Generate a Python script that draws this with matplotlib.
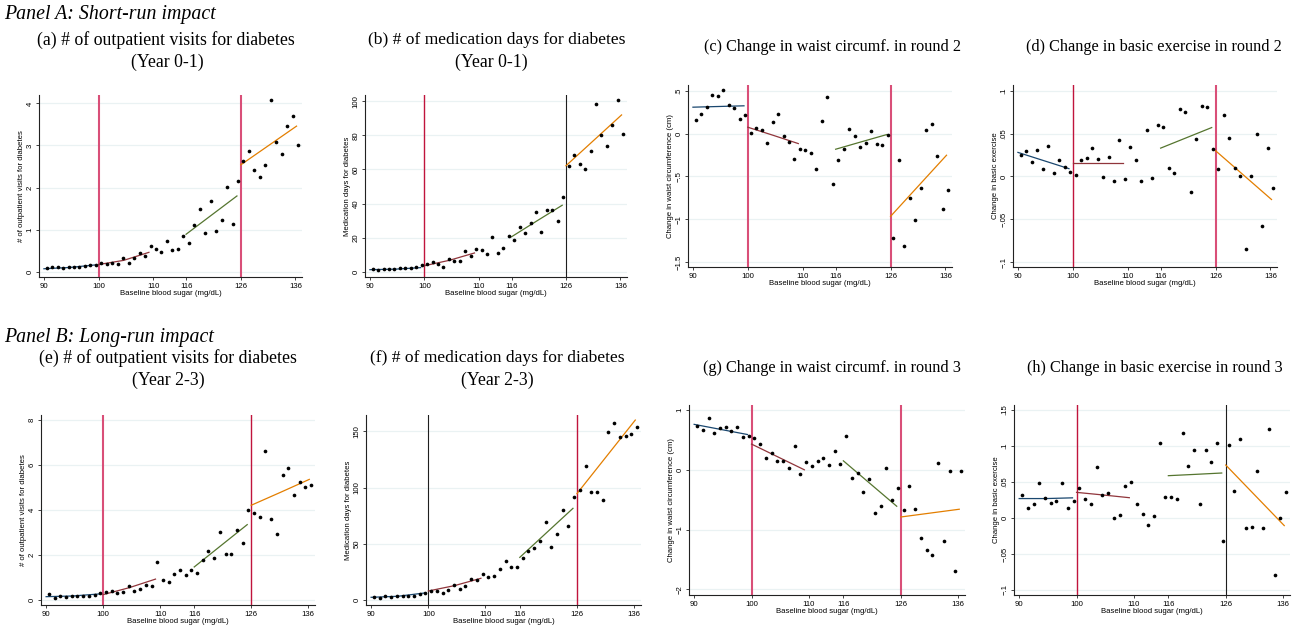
import matplotlib
matplotlib.use("Agg")
import matplotlib.pyplot as plt

W, H = 1294, 628

# bin centres of baseline blood sugar
bin_x = [90.5, 91.5, 92.5, 93.5, 94.5, 95.5, 96.5, 97.5, 98.5, 99.5,
         100.5, 101.5, 102.5, 103.5, 104.5, 105.5, 106.5, 107.5, 108.5, 109.5,
         110.5, 111.5, 112.5, 113.5, 114.5, 115.5, 116.5, 117.5, 118.5, 119.5,
         120.5, 121.5, 122.5, 123.5, 124.5, 125.5, 126.5, 127.5, 128.5, 129.5,
         130.5, 131.5, 132.5, 133.5, 134.5, 135.5, 136.5]

visits_y01 = [0.08, 0.10, 0.10, 0.08, 0.10, 0.10, 0.11, 0.13, 0.15, 0.17,
              0.20, 0.19, 0.21, 0.19, 0.33, 0.21, 0.33, 0.44, 0.38, 0.60,
              0.54, 0.46, 0.74, 0.51, 0.54, 0.86, 0.69, 1.10, 1.48, 0.92,
              1.69, 0.96, 1.22, 2.02, 1.14, 2.15, 2.64, 2.86, 2.41, 2.26,
              2.53, 4.09, 3.09, 2.79, 3.46, 3.71, 3.02]
meddays_y01 = [1.8, 1.2, 1.8, 1.4, 1.6, 2.0, 2.0, 2.0, 2.9, 4.1,
               4.3, 5.5, 4.5, 2.9, 7.4, 6.3, 6.5, 11.9, 9.2, 13.1,
               12.9, 10.4, 20.5, 10.8, 14.1, 21.1, 18.8, 26.0, 22.5, 28.8,
               35.2, 23.3, 36.0, 36.0, 29.9, 43.6, 62.2, 68.7, 63.4, 60.1,
               70.8, 98.6, 80.4, 73.8, 86.3, 100.8, 81.0]
waist_r2 = [0.164, 0.23, 0.31, 0.456, 0.44, 0.51, 0.335, 0.30, 0.17, 0.214,
            0.004, 0.066, 0.047, -0.113, 0.136, 0.23, -0.027, -0.10, -0.30, -0.175,
            -0.195, -0.226, -0.417, 0.144, 0.425, -0.585, -0.312, -0.175, 0.055, -0.031,
            -0.152, -0.109, 0.027, -0.121, -0.136, -0.012, -1.224, -0.304, -1.31, -0.752,
            -1.006, -0.635, 0.039, 0.109, -0.26, -0.877, -0.655]
exercise_r2 = [0.0253, 0.0296, 0.0164, 0.0308, 0.0082, 0.0359, 0.0035, 0.0195, 0.0113, 0.0047,
               0.0019, 0.0187, 0.0214, 0.0327, 0.0207, -0.0008, 0.023, -0.005, 0.0429, -0.0035,
               0.0347, 0.0187, -0.005, 0.0542, -0.002, 0.0596, 0.0573, 0.0097, 0.0039, 0.0784,
               0.0752, -0.0179, 0.0433, 0.0827, 0.0811, 0.0316, 0.0082, 0.0717, 0.0448, 0.0101,
               0.0, -0.0842, 0.0, 0.0499, -0.0577, 0.0327, -0.014]
visits_y23 = [0.25, 0.10, 0.18, 0.12, 0.16, 0.19, 0.19, 0.18, 0.22, 0.30,
              0.34, 0.39, 0.30, 0.34, 0.62, 0.41, 0.47, 0.67, 0.64, 1.69,
              0.89, 0.80, 1.14, 1.33, 1.13, 1.32, 1.21, 1.79, 2.16, 1.88,
              3.02, 2.04, 2.06, 3.10, 2.53, 3.99, 3.88, 3.70, 6.64, 3.60,
              2.92, 5.56, 5.87, 4.65, 5.26, 5.01, 5.11]
meddays_y23 = [2.4, 2.1, 3.3, 2.4, 3.3, 3.6, 3.6, 3.6, 5.3, 6.2,
               8.0, 8.0, 6.5, 8.9, 13.3, 10.1, 12.7, 19.0, 17.8, 22.8,
               20.8, 21.0, 27.9, 35.0, 29.4, 29.4, 37.4, 43.9, 46.2, 52.5,
               69.1, 47.2, 59.0, 80.0, 65.5, 91.9, 97.5, 119.2, 95.8, 95.8,
               89.2, 149.1, 157.7, 144.7, 145.9, 147.3, 153.6]
waist_r3 = [0.727, 0.665, 0.866, 0.615, 0.704, 0.721, 0.649, 0.716, 0.543, 0.56,
            0.537, 0.437, 0.202, 0.281, 0.141, 0.152, 0.035, 0.392, -0.071, 0.136,
            0.057, 0.141, 0.202, 0.08, 0.32, 0.091, 0.57, -0.138, -0.054, -0.372,
            -0.149, -0.718, -0.6, 0.035, -0.5, -0.3, -0.68, -0.277, -0.662, -1.136,
            -1.343, -1.432, 0.113, -1.192, -0.026, -1.693, -0.015]
exercise_r3 = [0.0319, 0.0139, 0.019, 0.0481, 0.0282, 0.0208, 0.0241, 0.0486, 0.0139, 0.0241,
               0.0412, 0.0259, 0.0194, 0.0713, 0.0315, 0.0352, 0.0005, 0.0046, 0.0444, 0.0495,
               0.0199, 0.0051, -0.0097, 0.0032, 0.1046, 0.0296, 0.0296, 0.0259, 0.118, 0.0722,
               0.0944, 0.0199, 0.0949, 0.0778, 0.1037, -0.0324, 0.1014, 0.037, 0.1097, -0.0139,
               -0.0125, 0.0653, -0.0144, 0.1231, -0.0796, 0.0005, 0.0356]

# fitted lines: x at start / middle / end of each segment
fit_x = [[90, 94.65, 99.3], [100, 104.6, 109.2], [116, 120.65, 125.3], [126, 131.1, 136.2]]
fit_colors = ["#1a476f", "#90353b", "#55752f", "#e37e00"]

fit_visits_y01 = [[0.07, 0.10, 0.16], [0.17, 0.27, 0.46], [0.89, 1.345, 1.8], [2.54, 3.0, 3.46]]
fit_meddays_y01 = [[1.2, 1.5, 2.4], [3.5, 6.7, 11.0], [20.5, 29.8, 39.0], [62.2, 77.1, 92.0]]
fit_waist_r2 = [[0.308, 0.316, 0.324], [0.074, -0.02, -0.117], [-0.183, -0.097, -0.012], [-0.967, -0.61, -0.253]]
fit_exercise_r2 = [[0.028, 0.0185, 0.009], [0.016, 0.016, 0.016], [0.033, 0.045, 0.057], [0.030, 0.0015, -0.027]]
fit_visits_y23 = [[0.15, 0.18, 0.27], [0.24, 0.55, 0.93], [1.47, 2.41, 3.35], [4.21, 4.78, 5.36]]
fit_meddays_y23 = [[2.4, 3.3, 6.2], [8.0, 12.8, 19.3], [37.9, 59.7, 81.5], [94.6, 127.3, 160.0]]
fit_waist_r3 = [[0.76, 0.675, 0.59], [0.43, 0.215, 0.0], [0.15, -0.23, -0.61], [-0.79, -0.725, -0.66]]
fit_exercise_r3 = [[0.027, 0.027, 0.028], [0.0356, 0.032, 0.0282], [0.0588, 0.0606, 0.0625], [0.0736, 0.0315, -0.0106]]

x_ticks = [90, 100, 110, 116, 126, 136]
cutoffs = [100, 126]

vline_styles = {
    "pink": ("#d94f78", 1.5),
    "crimson": ("#c0143c", 1.0),
    "black": ("#1e1e1e", 0.8),
}

panels = [
    # data, fits, ylabel, yticks, yticklabels, ylim, box (l, t, r, b), cutoff styles
    (visits_y01, fit_visits_y01, "# of outpatient visits for diabetes",
     [0, 1, 2, 3, 4], ["0", "1", "2", "3", "4"], (-0.126, 4.2),
     (39, 95, 302, 277), ("pink", "pink")),
    (meddays_y01, fit_meddays_y01, "Medication days for diabetes",
     [0, 20, 40, 60, 80, 100], ["0", "20", "40", "60", "80", "100"], (-3.1, 103.7),
     (365, 95, 627, 277), ("crimson", "black")),
    (waist_r2, fit_waist_r2, "Change in waist circumference (cm)",
     [-1.5, -1, -0.5, 0, 0.5], ["\u22121.5", "\u22121", "\u2212.5", "0", ".5"], (-1.558, 0.567),
     (688, 85, 952, 267), ("pink", "pink")),
    (exercise_r2, fit_exercise_r2, "Change in basic exercise",
     [-0.1, -0.05, 0, 0.05, 0.1], ["\u2212.1", "\u2212.05", "0", ".05", ".1"], (-0.1058, 0.1067),
     (1013, 85, 1277, 267), ("crimson", "pink")),
    (visits_y23, fit_visits_y23, "# of outpatient visits for diabetes",
     [0, 2, 4, 6, 8], ["0", "2", "4", "6", "8"], (-0.22, 8.22),
     (41, 415, 315, 605), ("pink", "crimson")),
    (meddays_y23, fit_meddays_y23, "Medication days for diabetes",
     [0, 50, 100, 150], ["0", "50", "100", "150"], (-4.45, 164.5),
     (366, 415, 641, 605), ("black", "crimson")),
    (waist_r3, fit_waist_r3, "Change in waist circumference (cm)",
     [-2, -1, 0, 1], ["\u22122", "\u22121", "0", "1"], (-2.095, 1.084),
     (689, 405, 965, 595), ("pink", "pink")),
    (exercise_r3, fit_exercise_r3, "Change in basic exercise",
     [-0.1, -0.05, 0, 0.05, 0.1, 0.15], ["\u2212.1", "\u2212.05", "0", ".05", ".1", ".15"], (-0.107, 0.157),
     (1014, 405, 1290, 595), ("crimson", "black")),
]

# text, centre x, centre y, font size
titles = [
    ("(a) # of outpatient visits for diabetes", 166, 40, 12.8),
    ("(Year 0-1)", 167, 62, 12.8),
    ("(b) # of medication days for diabetes", 497, 40, 12.6),
    ("(Year 0-1)", 491, 62, 12.8),
    ("(c) Change in waist circumf. in round 2", 832, 47, 11.7),
    ("(d) Change in basic exercise in round 2", 1154, 47, 11.7),
    ("(e) # of outpatient visits for diabetes", 168, 358, 12.8),
    ("(Year 2-3)", 168, 380, 12.8),
    ("(f) # of medication days for diabetes", 497, 358, 12.6),
    ("(Year 2-3)", 497, 380, 12.8),
    ("(g) Change in waist circumf. in round 3", 832, 368, 11.7),
    ("(h) Change in basic exercise in round 3", 1155, 368, 11.7),
]

serif = "Liberation Serif"
sans = "Liberation Sans"
axis_fs = 5.6

fig = plt.figure(figsize=(W / 100, H / 100), dpi=100)

for data, fits, ylabel, yticks, yticklabels, ylim, box, cut_styles in panels:
    left, top, right, bottom = box
    ax = fig.add_axes([left / W, 1 - bottom / H, (right - left) / W, (bottom - top) / H])

    for yt in yticks:
        ax.axhline(yt, color="#eaf2f3", lw=0.9, zorder=0)

    for c, style in zip(cutoffs, cut_styles):
        color, lw = vline_styles[style]
        ax.axvline(c, color=color, lw=lw, zorder=1)

    for xs, ys, col in zip(fit_x, fits, fit_colors):
        ax.plot(xs, ys, color=col, lw=0.9, zorder=2)

    ax.scatter(bin_x, data, s=7, color="black", linewidths=0, zorder=3)

    ax.set_xlim(89.1, 137.2)
    ax.set_ylim(*ylim)
    ax.set_xticks(x_ticks)
    ax.set_xticklabels([str(t) for t in x_ticks], fontsize=axis_fs, family=sans)
    ax.set_yticks(yticks)
    ax.set_yticklabels(yticklabels, fontsize=axis_fs, family=sans, rotation=90, va="center")

    for side in ("top", "right"):
        ax.spines[side].set_visible(False)
    for side in ("left", "bottom"):
        ax.spines[side].set_linewidth(0.8)
        ax.spines[side].set_color("#222222")
    ax.tick_params(length=2.5, width=0.6, pad=1.5, color="#222222")

    ax.set_xlabel("Baseline blood sugar (mg/dL)", fontsize=axis_fs, family=sans, labelpad=0.6)
    ax.set_ylabel(ylabel, fontsize=axis_fs, family=sans, labelpad=1.2)

for text, x, y, fs in titles:
    fig.text(x / W, 1 - y / H, text, ha="center", va="center", fontsize=fs, family=serif)

fig.text(4 / W, 1 - 15 / H, "Panel A: Short-run impact", ha="left", va="center",
         fontsize=14.3, family=serif, style="italic")
fig.text(4 / W, 1 - 337 / H, "Panel B: Long-run impact", ha="left", va="center",
         fontsize=14.3, family=serif, style="italic")

fig.savefig("out.png", dpi=100, facecolor="white")
